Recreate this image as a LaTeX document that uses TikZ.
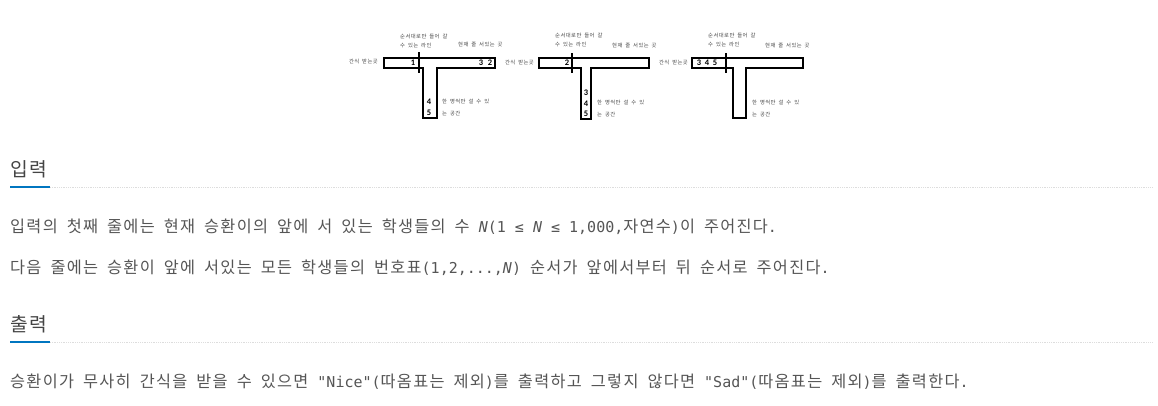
\documentclass[tikz,border=0pt]{standalone}
\usepackage{fontspec}
\setmainfont{DejaVu Sans Mono}
\newfontfamily\krfont{Noto Sans CJK KR}[Scale=1.087,LetterSpace=8]
\newfontfamily\latfont{DejaVu Sans Mono}
\newfontfamily\numfont{Carlito}
\definecolor{textgray}{HTML}{555555}
\definecolor{headgray}{HTML}{444444}
\definecolor{accent}{HTML}{0076C0}
\definecolor{rulegray}{HTML}{DDDDDD}
% automatic switch to a Korean font for Hangul syllables
\XeTeXinterchartokenstate=1
\newXeTeXintercharclass\hangulclass
\count255="AC00
\loop
  \XeTeXcharclass\count255=\hangulclass
  \advance\count255 by 1
\ifnum\count255<"D7A4 \repeat
\XeTeXinterchartoks 0 \hangulclass = {\krfont}
\XeTeXinterchartoks 4095 \hangulclass = {\krfont}
\XeTeXinterchartoks \hangulclass 0 = {\latfont}
\XeTeXinterchartoks \hangulclass 4095 = {\latfont}
\begin{document}
\begin{tikzpicture}[x=1pt,y=-1pt,
  tshape/.style={draw=black,line width=1.3pt,line join=miter},
  divider/.style={draw=black,line width=1.3pt},
  lbl/.style={inner sep=0pt,anchor=west,text=black!72,font=\fontsize{4.9}{5.5}\selectfont},
  lblr/.style={lbl,anchor=east},
  num/.style={inner sep=0pt,font=\numfont\bfseries\fontsize{8.5}{9}\selectfont},
  body/.style={inner sep=0pt,anchor=base west,text=textgray,font=\fontsize{15}{18}\selectfont},
  head/.style={inner sep=0pt,anchor=base west,text=headgray,font=\fontsize{17.7}{21}\selectfont},
  blueline/.style={draw=accent,line width=2.5pt},
  grayline/.style={draw=rulegray,line width=0.8pt,densely dotted},
]
\useasboundingbox (0,0) rectangle (1158,405);

% ---------- diagram 1 ----------
\draw[tshape] (384,58) -- (495,58) -- (495,68) -- (437,68) -- (437,118)
  -- (423,118) -- (423,68) -- (384,68) -- cycle;
\draw[divider] (419,52) -- (419,73);
\node[num] (a1) at (413,63) {1};
\node[num] (a3) at (481,63) {3};
\node[num] (a2) at (490,63) {2};
\node[num] (a4) at (429,102) {4};
\node[num] (a5) at (429,113) {5};
\node[lbl] (la1) at (400,37) {순서대로만 들어 갈};
\node[lbl] (la2) at (400,46) {수 있는 라인};
\node[lbl] (la3) at (458,45) {현재 줄 서있는 곳};
\node[lblr] (la4) at (378,62) {간식 받는곳};
\node[lbl] (la5) at (442,102) {한 명씩만 설 수 있};
\node[lbl] (la6) at (442,113) {는 공간};

% ---------- diagram 2 ----------
\draw[tshape] (539,58) -- (649,58) -- (649,68) -- (591,68) -- (591,119)
  -- (581,119) -- (581,68) -- (539,68) -- cycle;
\draw[divider] (572,53) -- (572,73);
\node[num] (b2) at (567,63) {2};
\node[num] (b3) at (586,93) {3};
\node[num] (b4) at (586,104) {4};
\node[num] (b5) at (586,114) {5};
\node[lbl] (lb1) at (555,36) {순서대로만 들어 갈};
\node[lbl] (lb2) at (555,45) {수 있는 라인};
\node[lbl] (lb3) at (612,46) {현재 줄 서있는 곳};
\node[lblr] (lb4) at (534,63) {간식 받는곳};
\node[lbl] (lb5) at (597,103) {한 명씩만 설 수 있};
\node[lbl] (lb6) at (597,114) {는 공간};

% ---------- diagram 3 ----------
\draw[tshape] (692,58) -- (803,58) -- (803,68) -- (746,68) -- (746,118)
  -- (733,118) -- (733,68) -- (692,68) -- cycle;
\draw[divider] (726,53) -- (726,73);
\node[num] (c3) at (699,63) {3};
\node[num] (c4) at (707,63) {4};
\node[num] (c5) at (715,63) {5};
\node[lbl] (lc1) at (708,36) {순서대로만 들어 갈};
\node[lbl] (lc2) at (708,45) {수 있는 라인};
\node[lbl] (lc3) at (765,46) {현재 줄 서있는 곳};
\node[lblr] (lc4) at (688,63) {간식 받는곳};
\node[lbl] (lc5) at (752,103) {한 명씩만 설 수 있};
\node[lbl] (lc6) at (752,114) {는 공간};

% ---------- 입력 ----------
\node[head] (h1) at (10,176) {입력};
\draw[grayline] (50,187) -- (1152,187);
\draw[blueline] (10,187) -- (50,187);
\node[body] (t1) at (10,232) {입력의 첫째 줄에는 현재 승환이의 앞에 서 있는 학생들의 수 \textit{N}(1 ≤ \textit{N} ≤ 1,000,자연수)이 주어진다.};
\node[body] (t2) at (10,273) {다음 줄에는 승환이 앞에 서있는 모든 학생들의 번호표(1,2,...,\textit{N}) 순서가 앞에서부터 뒤 순서로 주어진다.};

% ---------- 출력 ----------
\node[head] (h2) at (10,331) {출력};
\draw[grayline] (50,342) -- (1152,342);
\draw[blueline] (10,342) -- (50,342);
\node[body] (t3) at (10,387) {승환이가 무사히 간식을 받을 수 있으면 "Nice"(따옴표는 제외)를 출력하고 그렇지 않다면 "Sad"(따옴표는 제외)를 출력한다.};
\end{tikzpicture}
\end{document}
